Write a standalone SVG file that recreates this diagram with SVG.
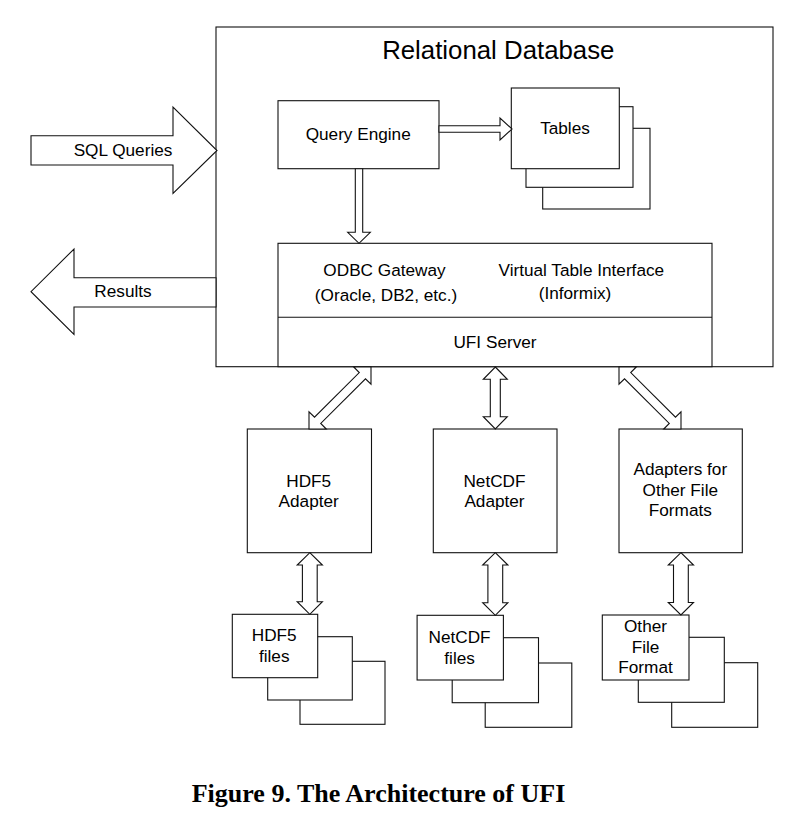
<svg xmlns="http://www.w3.org/2000/svg" width="809" height="815" viewBox="0 0 809 815">
<style>
.b{fill:#fff;stroke:#111;stroke-width:1.1}
.a{fill:#fff;stroke:#111;stroke-width:1.1;stroke-linejoin:miter}
text{font-family:"Liberation Sans",Arial,sans-serif;font-size:17.2px;fill:#000;text-anchor:middle}
.t{font-size:25.8px}
.cap{font-family:"Liberation Serif","Times New Roman",serif;font-weight:bold;font-size:26px}
</style>
<rect width="809" height="815" fill="#fff"/>
<g id="db">
<rect class="b" x="216" y="27" width="557" height="339.7"/>
<text class="t" x="498.3" y="59.3">Relational Database</text>
</g>
<g id="query-engine">
<rect class="b" x="278" y="100.7" width="161" height="68"/>
<text x="358.2" y="140">Query Engine</text>
</g>
<g id="tables">
<rect class="b" x="542.7" y="128.3" width="107.3" height="80.7"/>
<rect class="b" x="526" y="106.7" width="107" height="80.6"/>
<rect class="b" x="511.3" y="88" width="108" height="80.7"/>
<text x="565" y="134">Tables</text>
</g>
<g id="gateway">
<rect class="b" x="278" y="243.3" width="434" height="123.4"/>
<line x1="278" y1="317.3" x2="712" y2="317.3" stroke="#111" stroke-width="1.1"/>
<text x="384.5" y="276">ODBC Gateway</text>
<text x="386" y="300.7">(Oracle, DB2, etc.)</text>
<text x="581.3" y="276">Virtual Table Interface</text>
<text x="575" y="299">(Informix)</text>
<text x="495" y="347.7">UFI Server</text>
</g>
<g id="hdf5-adapter">
<rect class="b" x="247.3" y="429" width="124.2" height="123.7"/>
<text x="308.7" y="486.7">HDF5</text>
<text x="308.7" y="507.3">Adapter</text>
</g>
<g id="netcdf-adapter">
<rect class="b" x="433.3" y="429" width="123.7" height="123.7"/>
<text x="494.5" y="486.7">NetCDF</text>
<text x="494.5" y="507.3">Adapter</text>
</g>
<g id="other-adapter">
<rect class="b" x="619" y="429" width="123.3" height="123.7"/>
<text x="680.3" y="475">Adapters for</text>
<text x="680.3" y="495.7">Other File</text>
<text x="680.3" y="516">Formats</text>
</g>
<g id="hdf5-files">
<rect class="b" x="300" y="661.3" width="85" height="63"/>
<rect class="b" x="267.7" y="636.7" width="84.6" height="63.3"/>
<rect class="b" x="232.3" y="614.3" width="85.4" height="63.4"/>
<text x="274.2" y="640.7">HDF5</text>
<text x="274.2" y="661.7">files</text>
</g>
<g id="netcdf-files">
<rect class="b" x="485.2" y="663" width="86.6" height="64.3"/>
<rect class="b" x="452.2" y="637.7" width="86.3" height="65"/>
<rect class="b" x="417.1" y="615.3" width="86.3" height="64.7"/>
<text x="459.6" y="643.3">NetCDF</text>
<text x="459.6" y="664">files</text>
</g>
<g id="other-files">
<rect class="b" x="671.7" y="662.7" width="86" height="64.6"/>
<rect class="b" x="638.3" y="637.3" width="86" height="65"/>
<rect class="b" x="602.3" y="615" width="86.7" height="65"/>
<text x="645.5" y="631.7">Other</text>
<text x="645.5" y="652.7">File</text>
<text x="645.5" y="673.3">Format</text>
</g>
<g id="connectors">
<polygon class="a" points="31,135.7 173,135.7 173,107 217,150.5 173,193.5 173,165 31,165"/>
<text x="123" y="155.7">SQL Queries</text>
<polygon class="a" points="216,277.7 74,277.7 74,249 31,291.7 74,334.5 74,307 216,307"/>
<text x="123" y="297.3">Results</text>
<polygon class="a" points="439,125.7 500,125.7 500,118 512,129 500,140 500,132.3 439,132.3"/>
<polygon class="a" points="355.3,168.7 362.7,168.7 362.7,232.3 370.3,232.3 359,243.3 347.7,232.3 355.3,232.3"/>
<polygon class="a" points="371,367 353.74,367 359.26,372.52 314.52,417.26 309,411.74 309,429 326.26,429 320.74,423.48 365.48,378.74 371,384.26"/>
<polygon class="a" points="495.3,367 507.3,379.3 500.3,379.3 500.3,416.7 507.3,416.7 495.3,429 483.3,416.7 490.3,416.7 490.3,379.3 483.3,379.3"/>
<polygon class="a" points="619,367 619,384.26 624.52,378.74 669.26,423.48 663.74,429 681,429 681,411.74 675.48,417.26 630.74,372.52 636.26,367"/>
<polygon class="a" points="309.8,552.7 322.4,565 317.2,565 317.2,601.7 322.4,601.7 309.8,614.3 297.2,601.7 302.4,601.7 302.4,565 297.2,565"/>
<polygon class="a" points="495.3,552.7 507.9,565 502.7,565 502.7,602.7 507.9,602.7 495.3,615.3 482.7,602.7 487.9,602.7 487.9,565 482.7,565"/>
<polygon class="a" points="680.9,552.7 693.5,565 688.3,565 688.3,602.5 693.5,602.5 680.9,615 668.3,602.5 673.5,602.5 673.5,565 668.3,565"/>
</g>
<text class="cap" x="378.5" y="802">Figure 9. The Architecture of UFI</text>
</svg>
